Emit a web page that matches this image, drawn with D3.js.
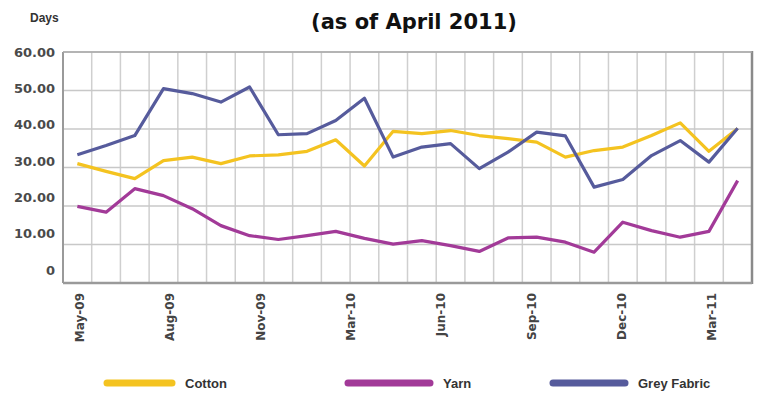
<!DOCTYPE html>
<html>
<head>
<meta charset="utf-8">
<script src="https://cdn.jsdelivr.net/npm/d3@7"></script>
<style>
  body { margin: 0; background: #fff; }
  svg { display: block; }
</style>
</head>
<body>
<script>
var width = 758;
var height = 396;

// months May-09 .. Apr-11
var months = ["May-09","Jun-09","Jul-09","Aug-09","Sep-09","Oct-09","Nov-09","Dec-09",
              "Jan-10","Feb-10","Mar-10","Apr-10","May-10","Jun-10","Jul-10","Aug-10",
              "Sep-10","Oct-10","Nov-10","Dec-10","Jan-11","Feb-11","Mar-11","Apr-11"];
var cotton = [31.0, 29.0, 27.1, 31.8, 32.7, 31.0, 33.0, 33.3, 34.2, 37.2, 30.4, 39.4,
              38.8, 39.6, 38.3, 37.5, 36.6, 32.7, 34.4, 35.3, 38.3, 41.6, 34.2, 40.1];
var yarn = [19.9, 18.4, 24.5, 22.7, 19.3, 14.9, 12.3, 11.3, 12.3, 13.4, 11.6, 10.1,
            11.0, 9.7, 8.2, 11.7, 11.9, 10.6, 8.0, 15.8, 13.6, 11.9, 13.4, 26.6];
var greyFabric = [33.3, 35.7, 38.3, 50.5, 49.2, 47.0, 50.9, 38.5, 38.8, 42.2, 48.0, 32.7,
                  35.3, 36.2, 29.7, 34.0, 39.2, 38.2, 24.9, 26.9, 33.1, 37.0, 31.4, 40.2];
var xLabels = ["May-09","Aug-09","Nov-09","Mar-10","Jun-10","Sep-10","Dec-10","Mar-11"];
var yTicks = [0, 10, 20, 30, 40, 50, 60];
var seriesNames = ["Cotton", "Yarn", "Grey Fabric"];
var colors = ["#f4c320", "#a23a98", "#565b9c"];

var series = [cotton, yarn, greyFabric];

// plot box (can't use "top" as a global name, it's window.top)
var pL = 63, pR = 752, pT = 52, pB = 283;

var svg = d3.select("body").append("svg")
  .attr("width", width)
  .attr("height", height);

var x = d3.scaleBand().domain(months).range([pL, pR]).padding(0);
var y = d3.scaleLinear().domain([0, 60]).range([pB, pT]);
// tick labels in the picture sit on their own even spacing
var yLab = d3.scaleLinear().domain([0, 60]).range([270, 52]);
var xLab = d3.scalePoint().domain(xLabels).range([80, 712]);

// title
svg.append("text")
  .attr("x", 414).attr("y", 29)
  .attr("text-anchor", "middle")
  .attr("font-family", "DejaVu Sans")
  .attr("font-weight", "bold")
  .attr("font-size", "21px")
  .attr("fill", "#111")
  .text("(as of April 2011)");

svg.append("text")
  .attr("x", 30).attr("y", 22)
  .attr("font-family", "Liberation Sans, sans-serif")
  .attr("font-weight", "bold")
  .attr("font-size", "12px")
  .attr("fill", "#333")
  .text("Days");

// grid
var vlines = months.map(function(m) { return x(m); }).concat([pR]);
svg.append("g").selectAll("line")
  .data(vlines)
  .enter().append("line")
  .attr("x1", function(d) { return d; })
  .attr("x2", function(d) { return d; })
  .attr("y1", pT).attr("y2", pB)
  .attr("stroke", "#cfcfcf")
  .attr("stroke-width", 1.5);

svg.append("g").selectAll("line")
  .data(yTicks)
  .enter().append("line")
  .attr("x1", pL).attr("x2", pR)
  .attr("y1", function(d) { return y(d); })
  .attr("y2", function(d) { return y(d); })
  .attr("stroke", "#c8c8c8")
  .attr("stroke-width", 1.5);

// frame
svg.append("line").attr("x1", pL).attr("x2", pL).attr("y1", pT).attr("y2", pB)
  .attr("stroke", "#9a9a9a").attr("stroke-width", 2);
svg.append("line").attr("x1", pR).attr("x2", pR).attr("y1", pT - 1).attr("y2", pB + 1)
  .attr("stroke", "#8a8a8a").attr("stroke-width", 2.5);
svg.append("line").attr("x1", pL).attr("x2", pR).attr("y1", pB).attr("y2", pB)
  .attr("stroke", "#9a9a9a").attr("stroke-width", 2.5);
svg.append("line").attr("x1", pL).attr("x2", pR).attr("y1", pT).attr("y2", pT)
  .attr("stroke", "#a8a8a8").attr("stroke-width", 1.5);

// y labels
svg.append("g").selectAll("text")
  .data(yTicks)
  .enter().append("text")
  .attr("x", 55)
  .attr("y", function(d) { return yLab(d); })
  .attr("dy", "0.35em")
  .attr("text-anchor", "end")
  .attr("font-family", "DejaVu Sans, sans-serif")
  .attr("font-weight", "bold")
  .attr("font-size", "13px")
  .attr("fill", "#4a4a4a")
  .text(function(d) { return d === 0 ? "0" : d3.format(".2f")(d); });

// x labels
svg.append("g").selectAll("text")
  .data(xLabels)
  .enter().append("text")
  .attr("transform", function(d) { return "translate(" + xLab(d) + ",293) rotate(-90)"; })
  .attr("dy", "0.35em")
  .attr("text-anchor", "end")
  .attr("font-family", "DejaVu Sans, sans-serif")
  .attr("font-weight", "bold")
  .attr("font-size", "12px")
  .attr("fill", "#444")
  .text(function(d) { return d; });

// lines
var line = d3.line()
  .x(function(d, i) { return x(months[i]) + x.bandwidth() / 2; })
  .y(function(d) { return y(d); });

svg.append("g").selectAll("path")
  .data(series)
  .enter().append("path")
  .attr("d", function(d) { return line(d); })
  .attr("fill", "none")
  .attr("stroke", function(d, i) { return colors[i]; })
  .attr("stroke-width", 3.2)
  .attr("stroke-linejoin", "round");

// legend
var legX = [107, 348, 553];
var legW = [65, 82, 72];
var lg = svg.append("g").selectAll("g")
  .data(seriesNames)
  .enter().append("g");
lg.append("line")
  .attr("x1", function(d, i) { return legX[i]; })
  .attr("x2", function(d, i) { return legX[i] + legW[i]; })
  .attr("y1", 383).attr("y2", 383)
  .attr("stroke", function(d, i) { return colors[i]; })
  .attr("stroke-width", 7)
  .attr("stroke-linecap", "round");
lg.append("text")
  .attr("x", function(d, i) { return legX[i] + legW[i] + 13; })
  .attr("y", 383)
  .attr("dy", "0.35em")
  .attr("font-family", "Liberation Sans, sans-serif")
  .attr("font-weight", "bold")
  .attr("font-size", "13px")
  .attr("fill", "#333")
  .text(function(d) { return d; });
</script>
</body>
</html>
